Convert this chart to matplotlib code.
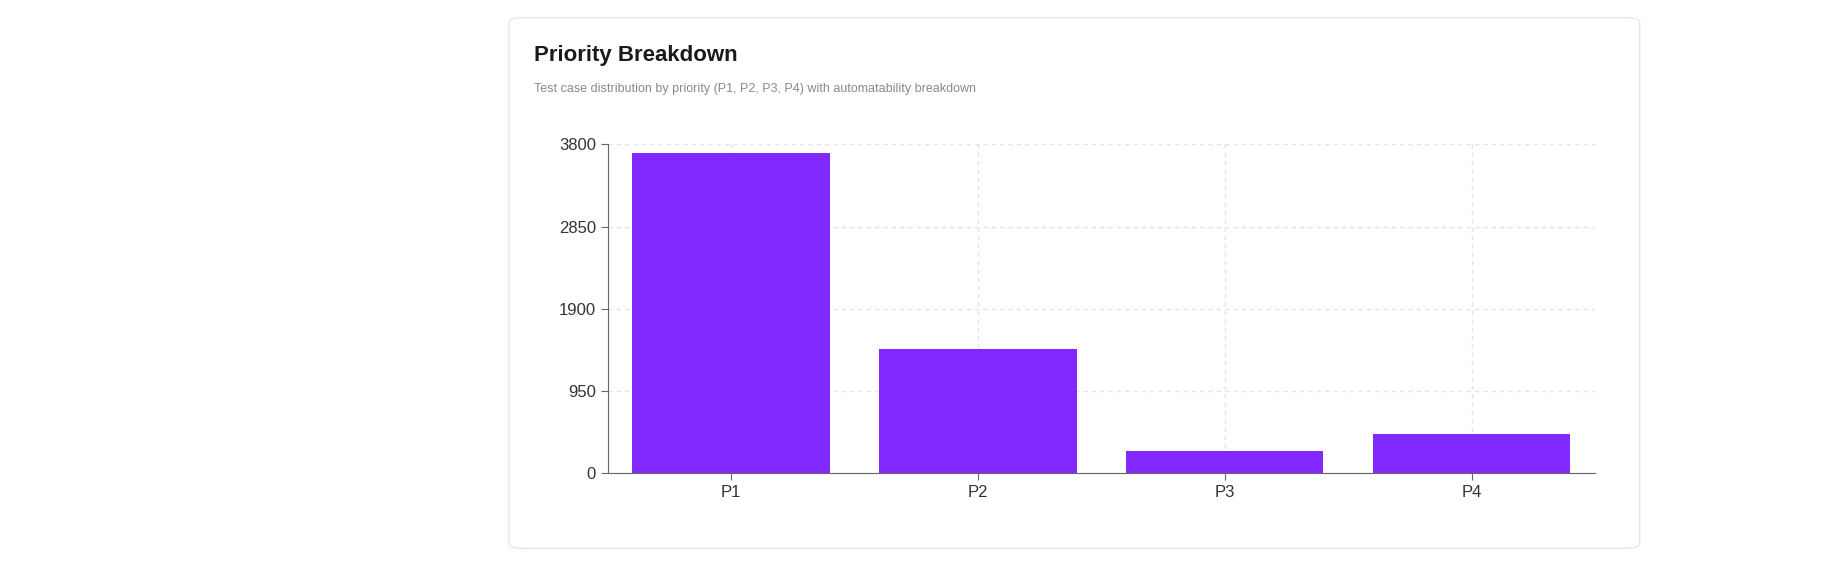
import matplotlib.pyplot as plt
from matplotlib.patches import FancyBboxPatch

plt.rcParams['font.family'] = ['Liberation Sans', 'DejaVu Sans']

categories = ["P1", "P2", "P3", "P4"]
counts = [3705, 1440, 260, 450]
yticks = [0, 950, 1900, 2850, 3800]

W, H = 1568, 488  # layout measured in reference pixels
fig = plt.figure(figsize=(18.43, 5.73), dpi=100)

# card background
card = FancyBboxPatch((433 / W, 1 - 467 / H), (1395 - 433) / W, (467 - 15) / H,
                      boxstyle="round,pad=0,rounding_size=0.008",
                      transform=fig.transFigure, facecolor="white",
                      edgecolor="#e8e8e8", linewidth=1, zorder=-1)
fig.patches.append(card)

fig.text(454 / W, 1 - 47 / H, "Priority Breakdown", fontsize=16, fontweight="bold",
         color="#1a1a1a", va="center")
fig.text(454 / W, 1 - 76 / H,
         "Test case distribution by priority (P1, P2, P3, P4) with automatability breakdown",
         fontsize=9, color="#8a8a8a", va="center")

ax = fig.add_axes([517 / W, 1 - 403 / H, (1357 - 517) / W, (403 - 123) / H])
ax.set_zorder(2)
ax.patch.set_alpha(0)
x = range(len(categories))
ax.bar(x, counts, width=0.8, color="#8229ff", zorder=3)
ax.set_xlim(-0.5, len(categories) - 0.5)
ax.set_ylim(0, 3800)
ax.set_yticks(yticks)
ax.set_yticklabels([str(v) for v in yticks])
ax.set_xticks(list(x))
ax.set_xticklabels(categories)
ax.tick_params(labelsize=12, colors="#333333")
ax.tick_params(axis="both", length=5, color="#666666")
ax.grid(True, linestyle=(0, (3, 3)), color="#e3e3e3", linewidth=1, zorder=0)
for s in ["top", "right"]:
    ax.spines[s].set_visible(False)
ax.spines["left"].set_color("#666666")
ax.spines["bottom"].set_color("#666666")
ax.axvline(len(categories) - 0.5, linestyle=(0, (3, 3)), color="#e3e3e3", linewidth=1)

fig.savefig("out.png", dpi=100)
